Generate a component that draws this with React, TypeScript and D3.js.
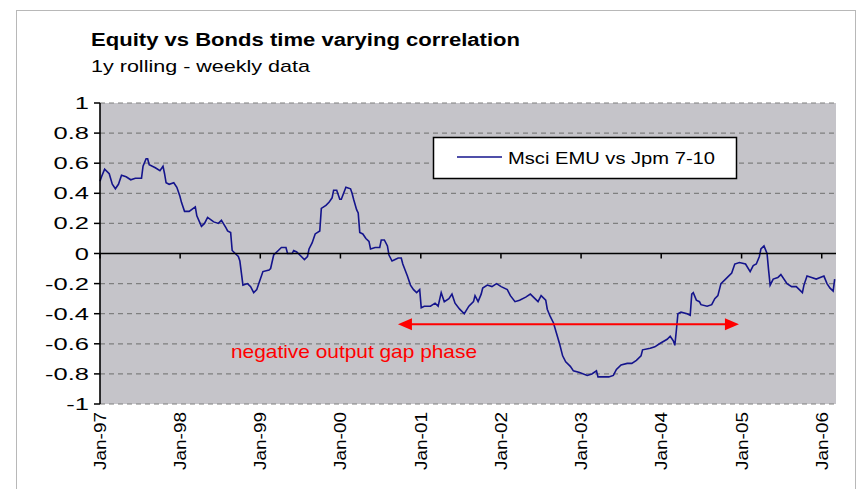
import React from 'react';
import * as d3 from 'd3';

// weekly index since 1 Jan 1997 and rolling correlation values
const weeks = [0,1,3,6,8,10,12,14,17,20,23,27,28,30,31,32,36,39,41,42,43,45,48,50,52,53,55,58,62,63,66,68,70,74,77,79,82,83,85,86,88,90,91,92,93,96,98,100,102,104,106,110,111,113,116,118,121,122,125,126,128,130,133,135,136,138,140,143,144,147,149,151,152,154,156,157,160,163,164,165,167,168,169,171,173,175,176,179,182,183,185,187,188,190,192,194,196,197,200,202,204,206,208,209,211,215,218,220,222,224,227,229,231,234,237,240,243,244,246,248,249,252,255,258,261,265,267,270,273,277,280,283,285,287,290,291,293,295,297,299,301,303,306,308,312,317,320,323,324,327,331,334,336,339,343,346,349,352,353,358,361,364,369,371,373,374,375,376,378,382,384,385,386,388,390,391,395,398,400,402,404,408,411,413,416,420,423,425,427,429,430,432,434,435,436,438,441,443,447,450,453,457,458,460,463,466,471,473,475,477,478];
const corr = [0.48,0.51,0.56,0.53,0.46,0.43,0.46,0.52,0.51,0.49,0.50,0.50,0.58,0.63,0.63,0.59,0.57,0.55,0.58,0.53,0.47,0.46,0.47,0.44,0.38,0.34,0.28,0.28,0.31,0.25,0.18,0.20,0.24,0.21,0.20,0.22,0.17,0.15,0.14,0.02,0.00,-0.02,-0.05,-0.13,-0.21,-0.20,-0.22,-0.26,-0.24,-0.18,-0.12,-0.11,-0.10,-0.01,0.02,0.04,0.04,0.00,0.00,0.02,0.01,-0.01,-0.04,-0.02,0.03,0.07,0.13,0.15,0.30,0.32,0.34,0.37,0.42,0.42,0.36,0.36,0.44,0.43,0.40,0.36,0.29,0.27,0.14,0.13,0.10,0.08,0.03,0.04,0.04,0.09,0.09,0.05,-0.01,-0.05,-0.04,-0.03,-0.03,-0.07,-0.15,-0.21,-0.24,-0.26,-0.24,-0.36,-0.35,-0.35,-0.33,-0.35,-0.26,-0.32,-0.30,-0.27,-0.33,-0.37,-0.40,-0.35,-0.32,-0.28,-0.32,-0.27,-0.23,-0.21,-0.22,-0.20,-0.22,-0.24,-0.28,-0.32,-0.31,-0.29,-0.27,-0.30,-0.32,-0.28,-0.31,-0.37,-0.42,-0.46,-0.53,-0.60,-0.68,-0.72,-0.75,-0.78,-0.79,-0.81,-0.80,-0.78,-0.82,-0.82,-0.82,-0.81,-0.77,-0.74,-0.73,-0.73,-0.71,-0.68,-0.64,-0.63,-0.62,-0.60,-0.57,-0.55,-0.58,-0.61,-0.51,-0.40,-0.39,-0.40,-0.41,-0.27,-0.26,-0.31,-0.32,-0.34,-0.35,-0.34,-0.30,-0.28,-0.20,-0.16,-0.13,-0.07,-0.06,-0.07,-0.12,-0.08,-0.07,-0.02,0.03,0.05,0.00,-0.11,-0.21,-0.17,-0.16,-0.14,-0.20,-0.22,-0.22,-0.26,-0.21,-0.15,-0.16,-0.17,-0.15,-0.20,-0.23,-0.25,-0.17];

const yTicks = [-1, -0.8, -0.6, -0.4, -0.2, 0, 0.2, 0.4, 0.6, 0.8, 1];
const yTickLabels = ['-1', '-0.8', '-0.6', '-0.4', '-0.2', '0', '0.2', '0.4', '0.6', '0.8', '1'];

const title = 'Equity vs Bonds time varying correlation';
const subtitle = '1y rolling - weekly data';
const seriesName = 'Msci EMU vs Jpm 7-10';
const annotationText = 'negative output gap phase';
const phaseDates = ['2000-09-19', '2004-12-20'];
const phaseLevel = -0.47;

const FONT = "Arial, 'Liberation Sans', sans-serif";

export default function App() {
  const start = new Date(1997, 0, 1);
  const end = d3.timeDay.offset(start, 3352);
  const L = 100, R = 836, T = 103, B = 404;
  const x = d3.scaleTime().domain([start, end]).range([L, R]);
  const y = d3.scaleLinear().domain([-1, 1]).range([B, T]);
  const data = weeks.map((w, i) => ({ d: d3.timeDay.offset(start, w * 7), v: corr[i] }));
  const line = d3.line<{ d: Date; v: number }>().x(p => x(p.d)).y(p => y(p.v));
  const years = d3.timeYear.range(start, end);
  const fmt = d3.timeFormat('%b-%y');
  const parse = d3.timeParse('%Y-%m-%d');
  const ax1 = x(parse(phaseDates[0]) as Date);
  const ax2 = x(parse(phaseDates[1]) as Date);
  const ay = y(phaseLevel);
  const y0 = y(0);

  return (
    <svg width={861} height={489} style={{ position: 'absolute', left: 0, top: 0, background: '#fff' }} fontFamily={FONT}>
      <rect x={16.5} y={10.5} width={839} height={500} fill="#fff" stroke="#b8b8b8" strokeWidth={1} />
      <text x={91} y={46} fontSize={18} fontWeight="bold" textLength={429} lengthAdjust="spacingAndGlyphs">{title}</text>
      <text x={91} y={72} fontSize={17} textLength={219} lengthAdjust="spacingAndGlyphs">{subtitle}</text>

      <rect x={L} y={T} width={R - L} height={B - T} fill="#c5c4c9" />
      {yTicks.filter(t => t !== 0).map(t => (
        <line key={t} x1={L} x2={R} y1={y(t)} y2={y(t)} stroke="#7f7f7f" strokeWidth={1.2} strokeDasharray="5,4" />
      ))}
      <path d={line(data) || ''} fill="none" stroke="#14148c" strokeWidth={1.6} />

      {/* zero line with year ticks */}
      <line x1={L} x2={R} y1={y0} y2={y0} stroke="#000" strokeWidth={1.6} />
      {years.map(d => (
        <line key={+d} x1={x(d)} x2={x(d)} y1={y0} y2={y0 + 5} stroke="#000" strokeWidth={1.5} />
      ))}
      {/* left axis */}
      <line x1={L} x2={L} y1={T} y2={B} stroke="#000" strokeWidth={1.6} />
      {yTicks.map((t, i) => (
        <g key={t}>
          <line x1={L - 6} x2={L} y1={y(t)} y2={y(t)} stroke="#000" strokeWidth={1.5} />
          <text transform={`translate(${L - 11},${y(t) + 6}) scale(1.5,1)`} textAnchor="end" fontSize={17}>{yTickLabels[i]}</text>
        </g>
      ))}
      {years.map(d => (
        <text key={+d} transform={`translate(${x(d) + 6},412) rotate(-90)`} textAnchor="end" fontSize={16} textLength={58} lengthAdjust="spacingAndGlyphs">{fmt(d)}</text>
      ))}

      {/* legend */}
      <rect x={433.5} y={137.5} width={303} height={41} fill="#fff" stroke="#000" strokeWidth={1.5} />
      <line x1={457} x2={502} y1={157} y2={157} stroke="#14148c" strokeWidth={1.6} />
      <text x={508} y={164} fontSize={17} textLength={207} lengthAdjust="spacingAndGlyphs">{seriesName}</text>

      {/* annotation arrow */}
      <line x1={ax1 + 12} x2={ax2 - 12} y1={ay} y2={ay} stroke="#ff0000" strokeWidth={2} />
      <path d={`M${ax1},${ay} L${ax1 + 14},${ay - 6} L${ax1 + 14},${ay + 6} Z`} fill="#ff0000" />
      <path d={`M${ax2},${ay} L${ax2 - 14},${ay - 6} L${ax2 - 14},${ay + 6} Z`} fill="#ff0000" />
      <text x={231} y={358} fontSize={19} fill="#ff0000" textLength={246} lengthAdjust="spacingAndGlyphs">{annotationText}</text>
    </svg>
  );
}
